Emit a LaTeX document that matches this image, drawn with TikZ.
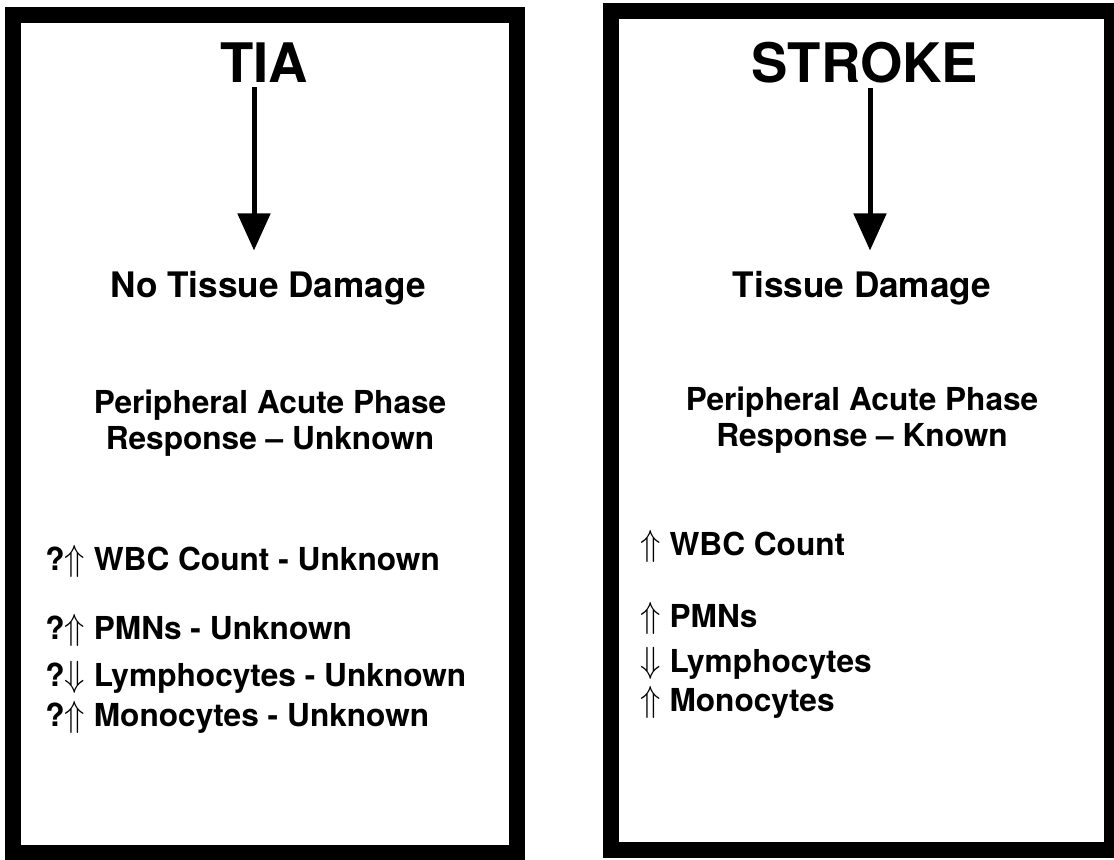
\documentclass[tikz,border=0pt]{standalone}
\usepackage{fontspec}
\setmainfont{TeX Gyre Heros}
\usepackage{amsmath, amssymb}
\usepackage{graphicx}
\usepackage{tikz}
\usetikzlibrary{
    arrows.meta,
    positioning
}
\newcommand{\upmark}{\scalebox{1.1}[1.2]{$\Uparrow$}}
\newcommand{\downmark}{\scalebox{1.1}[1.2]{$\Downarrow$}}

\begin{document}
\begin{tikzpicture}[
    x=0.02cm, y=-0.02cm,
    every text node part/.style={align=center},
    panel/.style={draw=black, line width=0.32cm},
    title/.style={font=\fontsize{31}{36}\selectfont\bfseries, inner sep=0.1cm, anchor=base},
    outcome/.style={font=\fontsize{20}{24}\selectfont\bfseries, inner sep=0pt, anchor=base},
    phase/.style={font=\fontsize{18}{20}\selectfont\bfseries, inner sep=0pt, anchor=north},
    item/.style={font=\fontsize{18}{22}\selectfont\bfseries, inner sep=0pt, anchor=base west},
    flow/.style={draw=black, line width=0.1cm, -{Triangle[width=0.64cm, length=0.74cm]}, shorten >=0.4cm}
]
\useasboundingbox (0,0) rectangle (1114,859);

% ==================== PANELS ====================
\draw[panel] (13,15) rectangle (517,853);
\draw[panel] (611,11) rectangle (1112,850);

% ==================== TIA ====================
\node[title] (tia) at (264,82) {TIA};
\node[outcome] (nodmg) at (268,297) {No Tissue Damage};
\draw[flow] ([xshift=-0.2cm]tia.south) -- ([xshift=-0.2cm]tia.south |- nodmg.north);

\node[phase] (apr_tia) at (270,390) {Peripheral Acute Phase\\Response -- Unknown};

\node[item] (wbc_tia) at (45,570) {?\upmark\ WBC Count - Unknown};
\node[item, below=1.40cm of wbc_tia.base west, anchor=base west] (pmn_tia) {?\upmark\ PMNs - Unknown};
\node[item, below=0.94cm of pmn_tia.base west, anchor=base west] (lym_tia) {?\downmark\ Lymphocytes - Unknown};
\node[item, below=0.80cm of lym_tia.base west, anchor=base west] (mono_tia) {?\upmark\ Monocytes - Unknown};

% ==================== STROKE ====================
\node[title] (stroke) at (865,82) {STROKE};
\node[outcome] (dmg) at (862,297) {Tissue Damage};
\draw[flow] ([xshift=0.1cm]stroke.south) -- ([xshift=0.1cm]stroke.south |- dmg.north);

\node[phase] (apr_stroke) at (862,387) {Peripheral Acute Phase\\Response -- Known};

\node[item] (wbc_stroke) at (640,555) {\upmark\ WBC Count};
\node[item, below=1.44cm of wbc_stroke.base west, anchor=base west] (pmn_stroke) {\upmark\ PMNs};
\node[item, below=0.92cm of pmn_stroke.base west, anchor=base west] (lym_stroke) {\downmark\ Lymphocytes};
\node[item, below=0.78cm of lym_stroke.base west, anchor=base west] (mono_stroke) {\upmark\ Monocytes};

\end{tikzpicture}
\end{document}
